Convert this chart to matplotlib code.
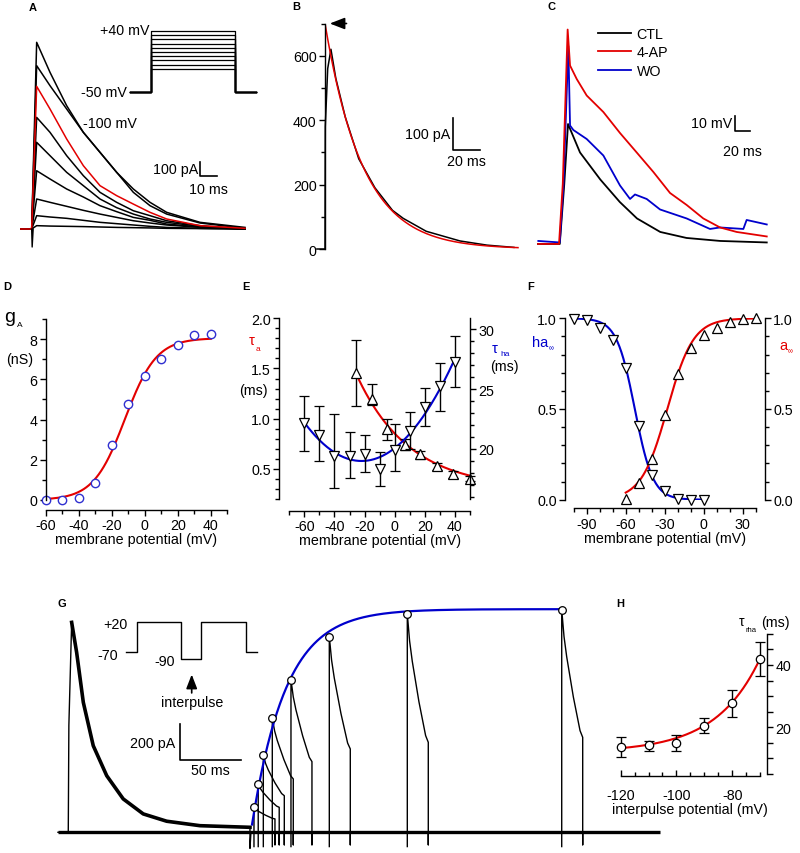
import numpy as np
import matplotlib
matplotlib.use("Agg")
import matplotlib.pyplot as plt
from matplotlib.ticker import MultipleLocator

plt.rcParams['font.family'] = ['Liberation Sans', 'DejaVu Sans']
plt.rcParams['font.size'] = 10.3
plt.rcParams['axes.unicode_minus'] = False

# ---------------- data ----------------
# A : family of A-currents (ms, pA)
a_t = [-7, 0, 3, 11, 21, 31, 41, 51, 61, 71, 81, 101, 128]
a_traces = [
    [0, 0, 1400, 1175, 925, 725, 575, 425, 300, 200, 125, 50, 12],
    [0, 0, 1225, 1075, 900, 725, 575, 425, 275, 175, 112, 45, 5],
    [0, 0, 1070, 900, 675, 475, 325, 250, 187, 125, 75, 25, 5],
    [0, 0, 837, 725, 550, 400, 275, 200, 137, 100, 62, 25, 0],
    [0, 0, 650, 550, 425, 325, 225, 160, 112, 75, 50, 20, 0],
    [0, 0, 437, 375, 300, 240, 175, 130, 87, 65, 37, 15, 0],
    [0, 0, 225, 200, 170, 140, 112, 87, 62, 45, 30, 12, 0],
    [0, 0, 100, 90, 80, 65, 50, 40, 30, 20, 12, 5, 0],
    [0, 0, 25, 22, 20, 18, 15, 12, 10, 8, 5, 3, 0],
]
a_red = 2
a_spike_t = [0, 0.3, 0.9]
a_spike_i = [0, -135, 0]
a_step_levels = [40, 30, 20, 10, 0, -10, -20, -30, -40, -50]
a_hold = -105
a_prot_t = [0, 20, 20, 100, 100, 120]

# B : single current with exponential fit (ms, pA)
b_t = [-6, 0, 0.2, 2, 4.4, 8, 15, 25, 37, 50, 58, 75, 100, 120, 140]
b_i = [0, 0, 380, 560, 620, 530, 410, 280, 190, 120, 95, 55, 25, 12, 5]
b_amp, b_tau, b_tend = 700, 28, 143

# C : action potentials (ms, mV)
c_ctl_t = [0, 29, 35, 40, 56, 83, 109, 132, 163, 198, 243, 305]
c_ctl_v = [-70, -70, -30, 10, -9, -27, -42, -53, -62, -66, -68, -69]
c_4ap_t = [0, 28, 33, 39.5, 42.7, 51.6, 64.9, 87.1, 109.3, 131.6, 153.8, 176, 198.2, 220.4, 242.7, 264.9, 305]
c_4ap_v = [-70, -70, -30, 73, 49, 40, 29, 18, 4, -9, -22, -36, -44, -53, -59, -62, -65]
c_wo_t = [0.4, 29, 34, 40.4, 42.7, 47.1, 64.9, 87.1, 109.3, 122.7, 129.3, 144.9, 162.7, 198.2, 229.3, 242.7, 273.8, 278.2, 305]
c_wo_v = [-68, -69, -30, 62, 9, 6, 0, -11, -31, -40, -37, -40, -47, -53, -60, -59, -60, -54, -57]

# D : conductance vs voltage
d_v = [-60, -50, -40, -30, -20, -10, 0, 10, 20, 30, 40]
d_g = [0.0, 0.02, 0.1, 0.85, 2.72, 4.77, 6.17, 6.99, 7.72, 8.2, 8.26]
d_gmax, d_vhalf, d_k = 8.05, -12, 9.5

# E : time constants
e_va = [-26, -15, -5, 7, 17, 28, 39, 50]
e_tau_a = [1.457, 1.199, 0.90, 0.742, 0.646, 0.526, 0.447, 0.404]
e_tau_a_lo = [1.13, 1.14, 0.785, 0.69, 0.60, 0.49, 0.41, 0.38]
e_tau_a_hi = [1.785, 1.35, 1.0, 0.80, 0.68, 0.56, 0.48, 0.43]
e_vh = [-60, -50, -40, -30, -20, -10, 0, 10, 20, 30, 40]
e_tau_ha = [22.17, 21.2, 19.39, 19.39, 19.56, 18.33, 19.94, 21.53, 23.47, 25.28, 27.28]
e_tau_ha_lo = [19.86, 18.97, 16.72, 17.56, 18.1, 16.89, 18.19, 20.0, 21.89, 23.19, 25.14]
e_tau_ha_hi = [24.4, 23.56, 22.9, 21.4, 21.2, 19.78, 22.08, 23.1, 25.08, 27.2, 29.44]
e_a_fit = (0.3, 1.16, -26, 35)       # offset, amp, v0, slope
e_h_fit = (19.0, 0.00222, -22)       # min, curvature, v at min

# F : steady state activation / inactivation
f_v_h = [-100, -90, -80, -70, -60, -50, -40, -30, -20, -10, 0]
f_h = [0.996, 0.99, 0.945, 0.88, 0.724, 0.404, 0.136, 0.05, 0.004, 0.0, 0.0]
f_v_a = [-60, -50, -40, -30, -20, -10, 0, 10, 20, 30, 40]
f_a = [0.004, 0.09, 0.224, 0.469, 0.693, 0.835, 0.908, 0.945, 0.978, 0.996, 1.0]
f_h_fit = (-53, 7)
f_a_fit = (-28, 10)

# G : recovery from inactivation (ms, pA)
g_first_t = [-8.5, 0, 0.5, 2.8, 6.9, 12.4, 20.6, 31.7, 45.3, 61.8, 81.1, 108.6, 136, 149.8]
g_first_i = [0, 0, 600, 1176, 1008, 728, 485, 317, 187, 103, 62, 37, 31, 28]
g_base_end = 488
g_onset = [153.1, 156.6, 160.8, 168.2, 183.6, 215.2, 279.5, 406.8]
g_peak = [140, 271, 433, 640, 855, 1096, 1223, 1247]
g_end = [75, 140, 205, 299, 396, 467, 504, 532]
g_shape_dt = [0, 1.9, 4.1, 9.6, 15.1, 17.3]
g_shape_f = [1, 0.88, 0.79, 0.61, 0.46, 0.43]
g_fit = (1250, 150.5, 28)            # Imax, t0, tau
g_prot_t = [0, 9, 9, 45, 45, 62, 62, 99, 99, 108]
g_prot_v = [-70, -70, 20, 20, -90, -90, 20, 20, -70, -70]

# H : recovery time constant vs interpulse potential
h_v = [-120, -110, -100, -90, -80, -70]
h_tau = [13.8, 14.3, 15.1, 20.5, 27.9, 41.9]
h_lo = [10.6, 12.3, 12.5, 18.2, 23.4, 36.6]
h_hi = [16.8, 15.7, 17.6, 22.9, 32.1, 47.5]
h_fit = (12, 30, -70, 15.9)

RED = '#e30000'
BLUE = '#0000cc'
PX = 0.72  # points per pixel

W, H = 800, 854
fig = plt.figure(figsize=(W / 100, H / 100), dpi=100)


def box(x0, y0, x1, y1):
    return fig.add_axes([x0 / W, 1 - y1 / H, (x1 - x0) / W, (y1 - y0) / H])


def ftxt(x, y, s, **kw):
    kw.setdefault('ha', 'center')
    kw.setdefault('va', 'center')
    return fig.text(x / W, 1 - y / H, s, **kw)


def style(ax, hide=('top', 'right')):
    for s in hide:
        ax.spines[s].set_visible(False)
    ax.tick_params(which='major', length=4, width=1, direction='out', pad=2)
    ax.tick_params(which='minor', length=3, width=1, direction='out')
    for s in ax.spines.values():
        s.set_linewidth(1)


# ---------------- A ----------------
ax = box(20, 35, 250, 250)
ax.set_xlim(-7, 131)
ax.set_ylim(-150, 1462.5)
ax.axis('off')
for i, tr in enumerate(a_traces):
    if i != a_red:
        ax.plot(a_t, tr, color='k', lw=1.1)
ax.plot(a_t, a_traces[a_red], color=RED, lw=1.1)
ax.plot(a_spike_t, a_spike_i, color='k', lw=1)
ax.plot([101, 101, 111], [502, 397, 397], color='k', lw=1.2)
ftxt(198, 170, '100 pA', ha='right')
ftxt(208, 190, '10 ms')

axp = box(125, 25, 260, 100)
axp.set_xlim(-4.76, 123.8)
axp.set_ylim(-121.9, 56.7)
axp.axis('off')
for lvl in a_step_levels:
    axp.plot(a_prot_t, [a_hold, a_hold, lvl, lvl, a_hold, a_hold], color='k', lw=0.9)
ftxt(150, 31, '+40 mV', ha='right')
ftxt(127, 93, '-50 mV', ha='right')
ftxt(110, 124, '-100 mV')

# ---------------- B ----------------
ax = box(325, 24.5, 530, 250)
ax.set_xlim(0, 151.9)
ax.set_ylim(0, 700)
style(ax, hide=('top', 'right', 'bottom'))
ax.set_xticks([])
ax.yaxis.set_major_locator(MultipleLocator(200))
ax.yaxis.set_minor_locator(MultipleLocator(100))
ax.plot(b_t, b_i, color='k', lw=1.1, clip_on=False)
tf = np.linspace(0, b_tend, 200)
ax.plot(tf, b_amp * np.exp(-tf / b_tau), color=RED, lw=1.1)
ax.annotate('', xy=(1.5, 700), xytext=(18, 700),
            arrowprops=dict(arrowstyle='-|>,head_length=0.9,head_width=0.35',
                            color='k', lw=1.2, mutation_scale=10),
            annotation_clip=False)
ax.plot([94.8, 94.8, 114.8], [406, 308, 308], color='k', lw=1.2)
ftxt(450, 135, '100 pA', ha='right')
ftxt(466, 162, '20 ms')

# ---------------- C ----------------
ax = box(530, 25, 775, 255)
ax.set_xlim(-10.7, 316)
ax.set_ylim(-76.7, 76.7)
ax.axis('off')
l1, = ax.plot(c_ctl_t, c_ctl_v, color='k', lw=1.3)
l3, = ax.plot(c_wo_t, c_wo_v, color=BLUE, lw=1.3)
l2, = ax.plot(c_4ap_t, c_4ap_v, color=RED, lw=1.3)
ax.legend([l1, l2, l3], ['CTL', '4-AP', 'WO'], frameon=False, loc='upper left',
          bbox_to_anchor=(598 / W, 1 - 28 / H), bbox_transform=fig.transFigure,
          borderpad=0, borderaxespad=0, handlelength=2.3, handletextpad=0.4,
          labelspacing=0.3, fontsize=10.3)
ax.plot([262.7, 262.7, 282.7], [15.3, 5.3, 5.3], color='k', lw=1.2)
ftxt(732, 124, '10 mV', ha='right')
ftxt(742, 152, '20 ms')

# ---------------- D ----------------
ax = box(45.7, 320, 227.3, 501)
ax.set_xlim(-60, 50)
ax.set_ylim(0, 9)
style(ax)
ax.spines['bottom'].set_position(('outward', 10 * PX))
ax.set_xticks(range(-60, 41, 20))
ax.xaxis.set_minor_locator(MultipleLocator(10))
ax.set_yticks(range(0, 9, 2))
ax.yaxis.set_minor_locator(MultipleLocator(1))
vf = np.linspace(-60, 40, 200)
ax.plot(vf, d_gmax / (1 + np.exp(-(vf - d_vhalf) / d_k)), color=RED, lw=1.5)
ax.plot(d_v, d_g, 'o', ms=6, mfc='white', mec='#3030d0', mew=1, clip_on=False)
ax.set_xlabel('membrane potential (mV)', labelpad=0)
ftxt(10, 318, 'g', fontsize=14)
ftxt(19.5, 326, 'A', fontsize=6)
ftxt(20, 360, '(nS)')

# ---------------- E ----------------
ax = box(289.3, 319.3, 470, 500)
ax.set_xlim(-70, 50)
ax.set_ylim(0.2, 2.0)
style(ax)
ax.spines['left'].set_position(('outward', 10 * PX))
ax.spines['bottom'].set_position(('outward', 12 * PX))
ax.set_xticks(range(-60, 41, 20))
ax.xaxis.set_minor_locator(MultipleLocator(10))
ax.set_yticks([0.5, 1.0, 1.5, 2.0])
ax.yaxis.set_minor_locator(MultipleLocator(0.1))
ax.set_yticklabels(['0.5', '1.0', '1.5', '2.0'])
ax.set_xlabel('membrane potential (mV)', labelpad=0)
off, amp, v0, sl = e_a_fit
vf = np.linspace(-26, 50, 200)
ax.plot(vf, off + amp * np.exp(-(vf - v0) / sl), color=RED, lw=1.5)
ta = np.array(e_tau_a)
ax.errorbar(e_va, e_tau_a, yerr=[ta - np.array(e_tau_a_lo), np.array(e_tau_a_hi) - ta],
            fmt='^', ms=7, mfc='white', mec='k', mew=0.9, ecolor='k', elinewidth=1,
            capsize=3.5, capthick=1, clip_on=False, zorder=4)
ax2 = ax.twinx()
ax2.set_ylim(15.83, 30.9)
style(ax2, hide=('top', 'left', 'bottom'))
ax2.yaxis.set_major_locator(MultipleLocator(5))
ax2.yaxis.set_minor_locator(MultipleLocator(1))
ymin, curv, vmin = e_h_fit
vf = np.linspace(-60, 40, 200)
ax2.plot(vf, ymin + curv * (vf - vmin) ** 2, color=BLUE, lw=1.5)
th = np.array(e_tau_ha)
ax2.errorbar(e_vh, e_tau_ha, yerr=[th - np.array(e_tau_ha_lo), np.array(e_tau_ha_hi) - th],
             fmt='v', ms=7, mfc='white', mec='k', mew=0.9, ecolor='k', elinewidth=1,
             capsize=3.5, capthick=1, clip_on=False, zorder=4)
ftxt(251.5, 341, 'τ', color=RED, fontsize=10.5)
ftxt(257.5, 350, 'a', color=RED, fontsize=6)
ftxt(253, 391, '(ms)')
ftxt(494.5, 349, 'τ', color=BLUE, fontsize=10.5)
ftxt(505, 355, 'ha', color=BLUE, fontsize=6)
ftxt(504, 367, '(ms)')

# ---------------- F ----------------
ax = box(573.7, 319.3, 755.7, 500.7)
ax.set_xlim(-100, 40)
ax.set_ylim(0, 1)
style(ax, hide=('top',))
ax.spines['left'].set_position(('outward', 8.7 * PX))
ax.spines['right'].set_position(('outward', 9.3 * PX))
ax.spines['bottom'].set_position(('outward', 8.6 * PX))
ax.yaxis.set_ticks_position('both')
ax.tick_params(axis='y', labelright=True)
ax.set_xticks(range(-90, 31, 30))
ax.xaxis.set_minor_locator(MultipleLocator(10))
ax.set_yticks([0, 0.5, 1.0])
ax.set_yticklabels(['0.0', '0.5', '1.0'])
ax.yaxis.set_minor_locator(MultipleLocator(0.1))
ax.set_xlabel('membrane potential (mV)', labelpad=0)
vh, kh = f_h_fit
vf = np.linspace(-100, 0, 200)
ax.plot(vf, 1 / (1 + np.exp((vf - vh) / kh)), color=BLUE, lw=1.5)
va, ka = f_a_fit
vf = np.linspace(-60, 40, 200)
ax.plot(vf, 1 / (1 + np.exp(-(vf - va) / ka)), color=RED, lw=1.5)
ax.plot(f_v_h, f_h, 'v', ms=7, mfc='white', mec='k', mew=0.9, clip_on=False)
ax.plot(f_v_a, f_a, '^', ms=7, mfc='white', mec='k', mew=0.9, clip_on=False)
ftxt(540, 343, 'ha', color=BLUE, fontsize=10.5)
ftxt(551.5, 349, '∞', color=BLUE, fontsize=5)
ftxt(783.5, 346, 'a', color=RED, fontsize=10.5)
ftxt(790, 352, '∞', color=RED, fontsize=5)

# ---------------- G ----------------
ax = box(40, 590, 700, 854)
ax.set_xlim(-23.3, 520.8)
ax.set_ylim(-116, 1363)
ax.axis('off')
ax.plot([g_first_t[0], g_base_end], [0, 0], color='k', lw=2.4, solid_capstyle='butt')
ax.plot(g_first_t[:4], g_first_i[:4], color='k', lw=1)
ax.plot(g_first_t[3:], g_first_i[3:], color='k', lw=2.6)
ax.plot([g_first_t[-1], g_first_t[-1], 150.6], [g_first_i[-1], -90, 0], color='k', lw=1)
shape = np.array(g_shape_f)
for on, pk, en in zip(g_onset, g_peak, g_end):
    vals = en + (pk - en) * (shape - shape[-1]) / (1 - shape[-1])
    tt = on + np.array(g_shape_dt)
    ax.plot([on, on] + list(tt) + [tt[-1], tt[-1]],
            [-80, pk] + list(vals) + [-70, 0], color='k', lw=1)
imax, t0, gtau = g_fit
tf = np.linspace(151.5, g_onset[-1], 300)
ax.plot(tf, imax * (1 - np.exp(-(tf - t0) / gtau)), color=BLUE, lw=1.6, zorder=4)
ax.plot(g_onset, g_peak, 'o', ms=5.5, mfc='white', mec='k', mew=0.9, zorder=5)
ax.plot([92.1, 92.1, 142.1], [606.7, 406.7, 406.7], color='k', lw=1.2)
ftxt(175, 744, '200 pA', ha='right')
ftxt(210, 771, '50 ms')

axg = box(120, 615, 262, 668)
axg.set_xlim(-4.9, 112.1)
axg.set_ylim(-113.2, 42.6)
axg.axis('off')
axg.plot(g_prot_t, g_prot_v, color='k', lw=1)
ftxt(115, 625, '+20')
ftxt(108, 656, '-70')
ftxt(165, 662, '-90')
fig.add_artist(matplotlib.patches.FancyArrowPatch(
    (191.7 / W, 1 - 696.7 / H), (191.7 / W, 1 - 672.7 / H), transform=fig.transFigure,
    arrowstyle='-|>,head_length=0.85,head_width=0.33', mutation_scale=10,
    color='k', lw=1.2))
ftxt(192, 703, 'interpulse')

# ---------------- H ----------------
ax = box(620.7, 634.8, 760, 775)
ax.set_xlim(-120, -70)
ax.set_ylim(5, 50)
style(ax, hide=('top', 'left'))
ax.yaxis.tick_right()
ax.spines['right'].set_position(('outward', 7 * PX))
ax.spines['bottom'].set_position(('outward', 1.5 * PX))
ax.set_xticks([-120, -100, -80])
ax.xaxis.set_minor_locator(MultipleLocator(5))
ax.tick_params(axis='x', which='both', direction='in', pad=9)
ax.set_yticks([20, 40])
ax.yaxis.set_minor_locator(MultipleLocator(5))
ax.tick_params(axis='y', which='minor', length=4)
ax.set_xlabel('interpulse potential (mV)', labelpad=0)
c0, amp, v0, sl = h_fit
vf = np.linspace(-120, -70, 200)
ax.plot(vf, c0 + amp * np.exp((vf - v0) / sl), color=RED, lw=1.5)
ht = np.array(h_tau)
ax.errorbar(h_v, h_tau, yerr=[ht - np.array(h_lo), np.array(h_hi) - ht],
            fmt='o', ms=6, mfc='white', mec='k', mew=0.9, ecolor='k', elinewidth=1,
            capsize=3.5, capthick=1, clip_on=False, zorder=4)
ftxt(742, 622, 'τ', fontsize=10)
ftxt(751, 630, 'rha', fontsize=5.5)
ftxt(775, 623, '(ms)')

# panel letters
for s, x, y in [('A', 33, 8), ('B', 296, 7), ('C', 551, 7), ('D', 7, 287),
                ('E', 246, 287), ('F', 531, 287), ('G', 62, 604), ('H', 620, 604)]:
    ftxt(x, y, s, fontsize=8, fontweight='bold')

fig.savefig('out.png', dpi=100)
